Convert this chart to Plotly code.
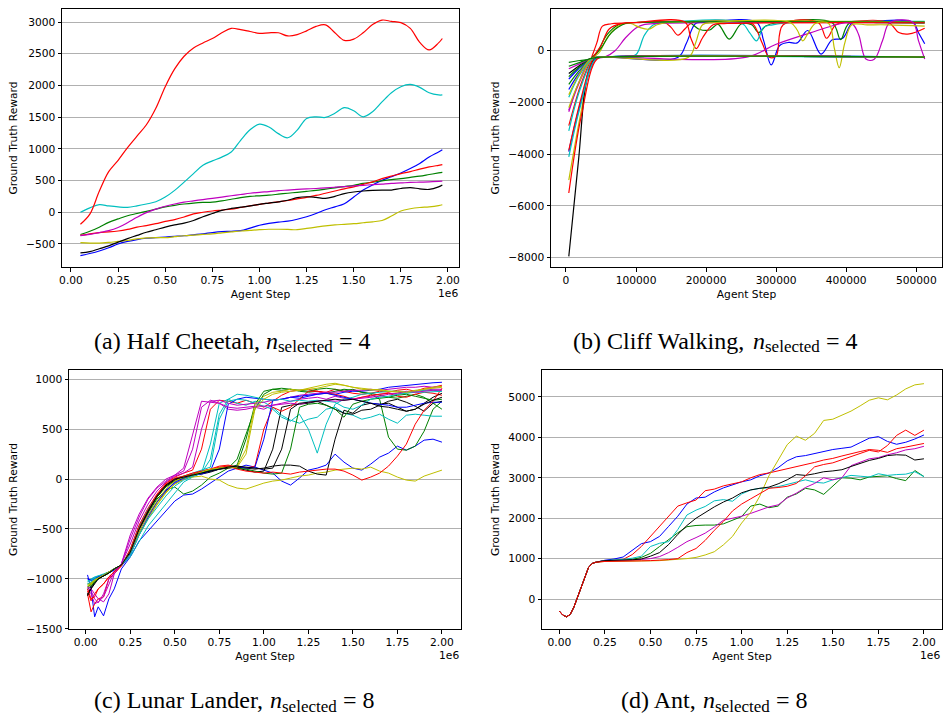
import plotly.graph_objects as go

FIG_W, FIG_H = 943, 715

LINE_COLORS = {
    "b": "#0000ff", "g": "#008000", "r": "#ff0000", "c": "#00bfbf",
    "m": "#bf00bf", "y": "#bfbf00", "k": "#000000",
}

# ---------------- (a) Half Cheetah (agent steps in millions) ----------------
cheetah_steps = [0.05, 0.10, 0.15, 0.20, 0.25, 0.30, 0.35, 0.40, 0.45, 0.50,
                 0.55, 0.60, 0.65, 0.70, 0.75, 0.80, 0.85, 0.90, 0.95, 1.00,
                 1.05, 1.10, 1.15, 1.20, 1.25, 1.30, 1.35, 1.40, 1.45, 1.50,
                 1.55, 1.60, 1.65, 1.70, 1.75, 1.80, 1.85, 1.90, 1.95, 1.97]
cheetah_blue = [-685, -650, -610, -560, -500, -460, -430, -410, -400, -390,
                -380, -370, -355, -340, -320, -305, -300, -290, -250, -205,
                -175, -155, -140, -110, -70, -20, 40, 85, 135, 240,
                350, 430, 505, 560, 620, 690, 770, 870, 950, 985]
cheetah_green = [-350, -300, -235, -160, -105, -55, -20, 15, 50, 85,
                 110, 130, 145, 155, 160, 180, 205, 230, 250, 260,
                 270, 285, 300, 315, 330, 345, 365, 385, 405, 425,
                 455, 475, 495, 515, 530, 550, 570, 595, 620, 630]
cheetah_red_low = [-365, -340, -320, -310, -295, -270, -235, -210, -180, -145,
                   -115, -75, -25, 0, 20, 35, 50, 75, 100, 125,
                   145, 165, 185, 210, 235, 265, 300, 335, 370, 400,
                   440, 480, 530, 570, 610, 640, 680, 715, 740, 750]
cheetah_cyan = [0, 70, 120, 100, 85, 78, 100, 130, 165, 240,
                345, 475, 610, 740, 810, 870, 950, 1135, 1300, 1390,
                1345, 1240, 1175, 1295, 1480, 1505, 1495, 1560, 1650, 1600,
                1505, 1585, 1740, 1885, 1980, 2015, 1970, 1885, 1850, 1850]
cheetah_magenta = [-368, -350, -320, -290, -240, -165, -80, -5, 50, 95,
                   130, 160, 180, 200, 220, 240, 260, 280, 300, 315,
                   325, 340, 350, 360, 368, 375, 385, 395, 405, 415,
                   425, 435, 445, 455, 462, 470, 475, 480, 488, 490]
cheetah_yellow = [-480, -485, -485, -475, -460, -445, -420, -405, -400, -400,
                  -385, -370, -360, -350, -340, -325, -310, -295, -285, -275,
                  -268, -268, -270, -275, -255, -235, -215, -200, -190, -180,
                  -165, -150, -130, -60, 20, 55, 75, 85, 105, 118]
cheetah_black = [-640, -620, -575, -530, -470, -415, -365, -315, -275, -235,
                 -200, -170, -130, -70, -20, 30, 60, 80, 100, 125,
                 145, 165, 190, 230, 245, 235, 220, 250, 295, 320,
                 335, 345, 350, 350, 375, 390, 370, 360, 400, 430]
cheetah_red_high = [-190, -30, 330, 640, 820, 1020, 1200, 1380, 1640, 1980,
                    2260, 2460, 2590, 2670, 2740, 2830, 2900, 2880, 2850, 2820,
                    2830, 2830, 2780, 2800, 2860, 2930, 2955, 2830, 2710, 2730,
                    2830, 2960, 3030, 3010, 2990, 2900, 2680, 2560, 2670, 2740]
cheetah_runs = [("b", cheetah_blue), ("g", cheetah_green), ("r", cheetah_red_low),
                ("c", cheetah_cyan), ("m", cheetah_magenta), ("y", cheetah_yellow),
                ("k", cheetah_black), ("r", cheetah_red_high)]

# ---------------- (b) Cliff Walking (agent steps in thousands) ----------------
cliff_runs = [
    ("b", [4, 18, 36, 45, 60, 160, 172, 185, 200, 272, 282, 293, 305, 318, 330, 345, 364, 380, 395, 408, 420, 495, 503, 512],
          [-1100, -700, -300, -250, -250, -250, 300, 1050, 1090, 1100, 400, -550, 200, 320, 300, 780, -130, 420, 480, 1060, 1090, 1100, 700, 270]),
    ("g", [4, 20, 36, 45, 58, 75, 90, 140, 175, 190, 205, 217, 233, 250, 265, 275, 285, 300, 380, 392, 404, 450, 512],
          [-450, -380, -300, -50, 600, 1000, 1080, 1110, 1100, 830, 800, 1020, 450, 1030, 1000, 700, 950, 1080, 1080, 430, 1050, 1080, 1060]),
    ("r", [4, 20, 36, 44, 52, 65, 100, 140, 150, 160, 170, 180, 260, 268, 280, 290, 300, 310, 360, 372, 385, 400, 460, 475, 490, 512],
          [-2900, -1400, -300, 300, 950, 1040, 1080, 1100, 900, 600, 850, 1080, 1100, 1000, 300, -250, -200, 1000, 1090, 480, 1000, 1100, 1100, 700, 650, 870]),
    ("c", [4, 20, 40, 55, 85, 100, 112, 125, 140, 250, 262, 272, 282, 295, 330, 512],
          [-3100, -1500, -320, -250, -250, -150, 600, 1000, 1080, 1080, 700, 380, 900, 1000, 1100, 1130]),
    ("m", [4, 18, 36, 55, 70, 85, 100, 110, 130, 512],
          [-2300, -1250, -300, -250, 0, 500, 880, 1000, 1050, 1080]),
    ("y", [4, 22, 38, 48, 60, 78, 92, 105, 118, 130, 145, 512],
          [-5000, -2300, -330, -50, 550, 1000, 1050, 900, 830, 1000, 1090, 1100]),
    ("k", [4, 18, 31, 42, 55, 512],
          [-7950, -4200, -900, -300, -250, -250]),
    ("b", [4, 20, 42, 55, 512],
          [-3900, -2100, -330, -250, -250]),
    ("g", [4, 18, 36, 50, 65, 85, 100, 512],
          [-1300, -800, -300, 100, 700, 1050, 1090, 1100]),
    ("r", [4, 20, 38, 50, 62, 80, 100, 170, 178, 186, 195, 210, 230, 512],
          [-3850, -2000, -320, 200, 850, 1050, 1090, 1100, 500, 80, 500, 1000, 1050, 1080]),
    ("c", [4, 20, 42, 55, 512],
          [-4100, -2200, -330, -250, -250]),
    ("m", [4, 18, 38, 55, 258, 300, 350, 400, 410, 418, 428, 440, 452, 462, 495, 503, 512],
          [-2360, -1300, -300, -250, -250, 250, 700, 1080, 1000, 600, -320, -330, 400, 1080, 1100, 400, -320]),
    ("y", [4, 18, 38, 55, 175, 185, 195, 210, 320, 330, 338, 346, 356, 375, 383, 390, 398, 408, 430, 460, 512],
          [-2200, -1250, -300, -250, -250, 300, 1000, 1080, 1090, 800, 380, 700, 1050, 1050, 100, -660, 300, 1000, 1000, 1000, 950]),
    ("k", [4, 18, 36, 50, 512], [-880, -600, -300, -250, -250]),
    ("b", [4, 18, 36, 50, 512], [-1500, -900, -310, -250, -250]),
    ("g", [4, 18, 36, 50, 512], [-1000, -650, -300, -250, -250]),
    ("r", [4, 22, 44, 60, 512], [-5500, -2500, -330, -250, -250]),
    ("c", [4, 18, 38, 55, 512], [-1800, -1000, -300, -250, -250]),
    ("m", [4, 20, 36, 50, 512], [-700, -500, -300, -250, -250]),
    ("y", [4, 18, 36, 50, 512], [-1700, -950, -300, -250, -250]),
    ("g", [4, 20, 36, 50, 512], [-600, -450, -300, -250, -250]),
]

# ---------------- (c) Lunar Lander (agent steps in millions) ----------------
lander_steps = [0.01, 0.03, 0.05, 0.07, 0.10, 0.13, 0.16, 0.20,
                0.25, 0.30, 0.35, 0.40, 0.45, 0.50, 0.55, 0.60, 0.65, 0.70,
                0.75, 0.80, 0.85, 0.90, 0.95, 1.00, 1.05, 1.10, 1.15, 1.20,
                1.25, 1.30, 1.35, 1.40, 1.45, 1.50, 1.55, 1.60, 1.65, 1.70,
                1.75, 1.80, 1.85, 1.90, 1.95, 2.00]
lander_runs = [
    ("b", [-960, -1100, -1380, -1280, -1370, -1200, -1100, -900,
           -780, -620, -520, -420, -320, -220, -160, -150, -100, -40,
           20, 80, 110, 140, 120, 90, 60, -20, -60, 10,
           90, 110, 140, 250, 170, 110, 90, 150, 220, 260,
           330, 290, 330, 390, 400, 370]),
    ("g", [-1050, -1040, -1010, -990, -960, -930, -900, -860,
           -740, -520, -340, -200, -110, -80, -150, -120, -60, 20,
           60, 110, 200, 450, 700, 850, 900, 890, 900, 880,
           870, 880, 860, 880, 900, 890, 870, 850, 800, 420,
           300, 290, 330, 480, 700, 780]),
    ("r", [-1150, -1330, -1250, -1200, -1180, -1000, -950, -870,
           -700, -460, -290, -150, -40, 20, 60, 90, 300, 700,
           790, 780, 760, 790, 760, 720, 780, 840, 880, 890,
           900, 880, 870, 900, 880, 860, 850, 860, 880, 870,
           890, 900, 880, 910, 920, 940]),
    ("c", [-1020, -1000, -980, -970, -960, -940, -910, -870,
           -780, -620, -470, -360, -250, -130, -30, 20, 60, 350,
           760, 800, 760, 740, 780, 770, 720, 640, 590, 560,
           600, 620, 700, 720, 660, 640, 600, 620, 650, 600,
           560, 640, 650, 640, 630, 630]),
    ("m", [-1100, -1150, -1250, -1230, -1180, -1050, -930, -850,
           -600, -380, -200, -90, -20, 40, 80, 300, 720, 790,
           760, 700, 690, 700, 720, 700, 740, 760, 780, 800,
           810, 820, 800, 830, 810, 800, 820, 830, 850, 860,
           850, 870, 880, 890, 900, 900]),
    ("y", [-1080, -1060, -1030, -1000, -960, -930, -900, -860,
           -740, -540, -390, -250, -130, -50, 0, 20, 30, 0,
           -10, -60, -90, -100, -70, -40, -20, -10, 10, 30,
           40, 60, 70, 90, 100, 110, 100, 120, 80, 60,
           20, -10, -20, 30, 60, 90]),
    ("k", [-1160, -1080, -1030, -1000, -970, -940, -900, -860,
           -740, -500, -320, -170, -60, 0, 20, 40, 50, 70,
           100, 130, 110, 90, 70, 80, 300, 720, 740, 750,
           760, 780, 740, 700, 660, 650, 690, 700, 740, 780,
           800, 770, 730, 680, 760, 780]),
    ("b", [-1000, -1020, -1000, -980, -960, -940, -910, -870,
           -760, -560, -380, -230, -110, -40, 0, 30, 60, 80,
           300, 750, 800, 820, 810, 800, 790, 800, 820, 810,
           830, 850, 860, 850, 870, 880, 880, 890, 900, 920,
           930, 940, 950, 960, 965, 970]),
    ("g", [-1080, -1050, -1020, -990, -970, -940, -900, -860,
           -730, -490, -310, -180, -70, -10, 10, 40, 70, 90,
           110, 120, 140, 400, 750, 880, 900, 910, 900, 890,
           880, 900, 910, 900, 880, 900, 870, 860, 840, 820,
           810, 830, 850, 820, 760, 700]),
    ("r", [-1120, -1220, -1150, -1100, -1050, -980, -930, -870,
           -710, -470, -300, -160, -50, 10, 30, 50, 80, 100,
           130, 140, 120, 110, 130, 500, 720, 680, 720, 800,
           880, 880, 860, 850, 830, 800, 820, 840, 850, 860,
           830, 820, 850, 870, 860, 840]),
    ("c", [-1050, -1030, -1000, -980, -960, -930, -900, -860,
           -720, -480, -300, -170, -60, 0, 30, 60, 90, 120,
           600, 780, 800, 790, 760, 730, 700, 620, 580, 650,
           500, 260, 550, 750, 800, 820, 850, 860, 870, 880,
           880, 870, 880, 890, 890, 880]),
    ("m", [-1090, -1120, -1200, -1240, -1150, -1000, -920, -850,
           -650, -420, -250, -120, -30, 30, 60, 120, 500, 780,
           790, 760, 740, 750, 760, 770, 790, 800, 820, 840,
           850, 860, 870, 870, 880, 890, 890, 900, 890, 900,
           910, 920, 920, 930, 920, 930]),
    ("y", [-1060, -1040, -1010, -990, -960, -930, -900, -860,
           -750, -560, -400, -260, -140, -50, 0, 30, 60, 80,
           100, 110, 130, 300, 750, 830, 870, 880, 900, 890,
           910, 930, 950, 960, 940, 920, 900, 890, 900, 880,
           870, 860, 880, 900, 920, 930]),
    ("k", [-1150, -1090, -1040, -1000, -970, -940, -900, -860,
           -740, -510, -330, -180, -70, -10, 20, 40, 60, 80,
           100, 110, 120, 110, 100, 110, 130, 140, 140, 130,
           80, 50, 40, 400, 690, 660, 740, 760, 750, 760,
           720, 680, 700, 760, 820, 860]),
    ("b", [-1000, -1010, -990, -980, -960, -930, -900, -860,
           -740, -520, -360, -230, -120, -30, 10, 40, 50, 80,
           100, 120, 130, 110, 120, 400, 790, 800, 820, 830,
           840, 850, 860, 840, 820, 800, 780, 760, 750, 740,
           720, 720, 740, 760, 770, 770]),
    ("g", [-1100, -1070, -1030, -1000, -970, -940, -900, -860,
           -730, -500, -320, -180, -80, -20, 20, 40, 70, 90,
           110, 120, 110, 100, 80, 60, 50, 60, 300, 720,
           750, 760, 740, 700, 620, 750, 780, 800, 810, 820,
           840, 850, 830, 810, 790, 800]),
    ("r", [-1100, -1200, -1180, -1100, -1050, -980, -930, -870,
           -720, -490, -310, -170, -60, 0, 30, 60, 80, 100,
           120, 130, 100, 80, 70, 60, 70, 60, 50, 70,
           80, 90, 100, 100, 80, 40, -10, 20, 60, 130,
           230, 350, 550, 690, 780, 910]),
    ("c", [-1030, -1010, -990, -970, -950, -930, -900, -860,
           -760, -560, -400, -280, -170, -70, -10, 30, 60, 200,
           650, 800, 850, 840, 820, 800, 790, 800, 780, 790,
           780, 790, 780, 770, 720, 700, 740, 800, 820, 830,
           850, 860, 870, 870, 875, 880]),
    ("m", [-1080, -1100, -1150, -1200, -1230, -1150, -950, -850,
           -560, -350, -190, -80, 0, 40, 110, 450, 780, 770,
           760, 720, 710, 720, 730, 730, 740, 750, 760, 750,
           770, 780, 790, 780, 790, 800, 810, 820, 830, 850,
           860, 880, 870, 880, 890, 890]),
    ("y", [-1070, -1050, -1020, -990, -960, -930, -900, -860,
           -730, -520, -360, -220, -100, -20, 20, 40, 70, 100,
           110, 120, 120, 250, 700, 800, 850, 870, 880, 890,
           900, 910, 930, 950, 940, 920, 910, 900, 890, 880,
           880, 870, 890, 900, 910, 920]),
    ("k", [-1170, -1100, -1050, -1000, -970, -940, -900, -860,
           -730, -500, -320, -170, -60, 0, 20, 40, 60, 80,
           100, 120, 130, 120, 110, 100, 110, 300, 700, 760,
           770, 780, 790, 800, 790, 800, 780, 760, 730, 720,
           700, 680, 700, 750, 790, 820]),
]

# ---------------- (d) Ant (agent steps in millions) ----------------
ant_warmup_steps = [0.00, 0.02, 0.04, 0.06, 0.08, 0.10, 0.12, 0.14, 0.16, 0.18, 0.20]
ant_warmup = [-300, -400, -440, -380, -200, 50, 300, 560, 780, 880, 910]
ant_steps = [0.25, 0.30, 0.35, 0.40, 0.45, 0.50, 0.55, 0.60, 0.65, 0.70,
             0.75, 0.80, 0.85, 0.90, 0.95, 1.00, 1.05, 1.10, 1.15, 1.20,
             1.25, 1.30, 1.35, 1.40, 1.45, 1.50, 1.55, 1.60, 1.65, 1.70,
             1.75, 1.80, 1.85, 1.90, 1.95, 2.00]
ant_blue = [960, 990, 1040, 1200, 1370, 1420, 1550, 1800, 2050, 2350,
            2500, 2520, 2650, 2750, 2830, 2900, 2950, 3050, 3120, 3250,
            3420, 3520, 3550, 3600, 3650, 3700, 3730, 3760, 3870, 3980,
            4020, 3900, 3830, 3880, 3960, 4060]
ant_green = [950, 955, 960, 980, 1030, 1130, 1300, 1480, 1640, 1790,
             1820, 1830, 1830, 1860, 1950, 2040, 2300, 2350, 2260, 2300,
             2520, 2600, 2740, 2700, 2590, 2800, 3000, 2990, 2950, 3020,
             3040, 3050, 2980, 2930, 3180, 3030]
ant_red_early = [950, 955, 980, 1100, 1300, 1550, 1780, 2050, 2300, 2380,
                 2450, 2680, 2720, 2800, 2850, 2900, 3000, 3080, 3120, 3170,
                 3230, 3280, 3320, 3380, 3440, 3480, 3540, 3600, 3650, 3700,
                 3680, 3630, 3720, 3760, 3810, 3850]
ant_cyan = [950, 960, 980, 1010, 1060, 1300, 1380, 1420, 1720, 2080,
            2200, 2290, 2430, 2460, 2420, 2600, 2700, 2740, 2750, 2780,
            2840, 2900, 2950, 2890, 2870, 2950, 3010, 3060, 3040, 3020,
            3100, 3060, 3080, 3090, 3150, 3030]
ant_magenta = [940, 945, 950, 960, 980, 1000, 1050, 1150, 1280, 1420,
               1520, 1630, 1780, 1950, 2000, 2050, 2120, 2200, 2280, 2330,
               2500, 2620, 2760, 2860, 3000, 2950, 3000, 3300, 3380, 3470,
               3500, 3570, 3620, 3690, 3720, 3780]
ant_yellow = [930, 930, 935, 940, 940, 945, 950, 965, 985, 1000,
              1030, 1090, 1170, 1340, 1550, 1880, 2150, 2550, 3050, 3450,
              3820, 4030, 3930, 4100, 4420, 4450, 4550, 4650, 4780, 4920,
              4980, 4930, 5050, 5200, 5300, 5330]
ant_black = [950, 955, 960, 970, 990, 1060, 1150, 1350, 1600, 1820,
             2000, 2150, 2280, 2400, 2500, 2630, 2700, 2740, 2770, 2850,
             2950, 3080, 3060, 3100, 3150, 3170, 3200, 3280, 3350, 3430,
             3480, 3550, 3570, 3560, 3440, 3470]
ant_red_late = [930, 930, 935, 940, 945, 950, 960, 975, 1000, 1150,
                1250, 1450, 1700, 1920, 2180, 2350, 2480, 2600, 2740, 2760,
                2790, 2860, 3050, 3270, 3330, 3370, 3450, 3520, 3600, 3680,
                3640, 3800, 4050, 4180, 4050, 4180]
ant_runs = [("b", ant_blue), ("g", ant_green), ("r", ant_red_early), ("c", ant_cyan),
            ("m", ant_magenta), ("y", ant_yellow), ("k", ant_black), ("r", ant_red_late)]

for _, ys in cheetah_runs:
    assert len(ys) == len(cheetah_steps)
for _, xs, ys in cliff_runs:
    assert len(xs) == len(ys)
for _, ys in lander_runs:
    assert len(ys) == len(lander_steps)
for _, ys in ant_runs:
    assert len(ys) == len(ant_steps)

# ---------------- figure ----------------
fig = go.Figure()


def add_line(xs, ys, color, axis_id, width, shape="linear"):
    fig.add_trace(go.Scatter(
        x=xs, y=ys, mode="lines",
        line=dict(color=LINE_COLORS[color], width=width, shape=shape),
        xaxis="x" + axis_id, yaxis="y" + axis_id,
        showlegend=False, hoverinfo="skip",
    ))


for c, ys in cheetah_runs:
    add_line(cheetah_steps, ys, c, "", 1.2, "spline")
for c, xs, ys in cliff_runs:
    add_line([v * 1000 for v in xs], ys, c, "2", 1.2, "spline")
for c, ys in lander_runs:
    add_line(lander_steps, ys, c, "3", 1.0)
for c, ys in ant_runs:
    add_line(ant_warmup_steps + ant_steps, ant_warmup + ys, c, "4", 1.0)


def px_x(v):
    return v / FIG_W


def px_y(v):
    return 1 - v / FIG_H


TEXT_FONT = dict(family="DejaVu Sans", size=10.7, color="black")
million_ticks = [0.0, 0.25, 0.5, 0.75, 1.0, 1.25, 1.5, 1.75, 2.0]
million_text = ["0.00", "0.25", "0.50", "0.75", "1.00", "1.25", "1.50", "1.75", "2.00"]


def minus(v):
    return str(v).replace("-", "\u2212")


def make_axes(suffix, box_x, box_y, xrange, yrange, xticks, xtext, yticks):
    common = dict(showline=True, mirror=True, linecolor="black", linewidth=1,
                  ticks="outside", ticklen=3.5, tickwidth=1, tickcolor="black",
                  zeroline=False, tickfont=TEXT_FONT, fixedrange=True, automargin=False)
    xa = dict(common, domain=[px_x(box_x[0]), px_x(box_x[1])], range=xrange,
              anchor="y" + suffix, tickvals=xticks, ticktext=xtext, showgrid=False,
              title=dict(text="Agent Step", font=TEXT_FONT, standoff=4))
    ya = dict(common, domain=[px_y(box_y[1]), px_y(box_y[0])], range=yrange,
              anchor="x" + suffix, tickvals=yticks, ticktext=[minus(v) for v in yticks],
              showgrid=True, gridcolor="#b0b0b0", gridwidth=1,
              title=dict(text="Ground Truth Reward", font=TEXT_FONT, standoff=6))
    return xa, ya


xa1, ya1 = make_axes("", (62, 459), (9, 267), [-0.0477, 2.0584], [-863, 3205],
                     million_ticks, million_text, [-500, 0, 500, 1000, 1500, 2000, 2500, 3000])
xa2, ya2 = make_axes("2", (551, 942), (9, 267), [-21400, 536700], [-8360, 1611],
                     [0, 100000, 200000, 300000, 400000, 500000],
                     ["0", "100000", "200000", "300000", "400000", "500000"],
                     [-8000, -6000, -4000, -2000, 0])
xa3, ya3 = make_axes("3", (69, 461), (370, 629), [-0.094, 2.107], [-1502, 1093],
                     million_ticks, million_text, [-1500, -1000, -500, 0, 500, 1000])
xa4, ya4 = make_axes("4", (542, 942), (370, 629), [-0.095, 2.099], [-742, 5668],
                     million_ticks, million_text, [0, 1000, 2000, 3000, 4000, 5000])

annotations = []


def label(text, x, y, size=10.7, xanchor="center", family="DejaVu Sans", style="normal"):
    annotations.append(dict(
        text=text, x=px_x(x), y=px_y(y), xref="paper", yref="paper",
        xanchor=xanchor, yanchor="middle", showarrow=False,
        font=dict(family=family, size=size, color="black", style=style),
    ))


# scale offset text under the million-step axes
label("1e6", 459.5, 294, xanchor="right")
label("1e6", 460.5, 655, xanchor="right")
label("1e6", 942, 655, xanchor="right")

# sub-figure captions: roman head, italic n, subscript "selected", then "= k"
CAP = "Liberation Serif"
CAP_SIZE = 24
SUB_SIZE = 17
SERIF_EM = {"(": .333, ")": .333, " ": .25, ",": .25, "=": .564, "4": .5, "8": .5,
            "a": .444, "b": .5, "c": .444, "d": .5, "e": .444, "f": .333, "g": .5,
            "h": .5, "i": .278, "k": .5, "l": .278, "n": .5, "r": .333, "s": .389,
            "t": .278, "u": .5, "A": .722, "C": .667, "H": .722, "L": .611, "W": .944}


def serif_width(text, size):
    return sum(SERIF_EM[ch] for ch in text) * size


def caption(left, y, head, count):
    x = left
    label(head, x, y, size=CAP_SIZE, xanchor="left", family=CAP)
    x += serif_width(head + " ", CAP_SIZE)
    label("n", x, y, size=CAP_SIZE, xanchor="left", family=CAP, style="italic")
    x += 0.5 * CAP_SIZE
    label("selected", x, y + 6, size=SUB_SIZE, xanchor="left", family=CAP)
    x += serif_width("selected", SUB_SIZE) + 0.28 * CAP_SIZE
    label("= " + count, x, y, size=CAP_SIZE, xanchor="left", family=CAP)


caption(92, 341, "(a) Half Cheetah,", "4")
caption(571, 341, "(b) Cliff Walking,", "4")
caption(92, 700, "(c) Lunar Lander,", "8")
caption(619, 700, "(d) Ant,", "8")

fig.update_layout(
    width=FIG_W, height=FIG_H,
    margin=dict(l=0, r=0, t=0, b=0),
    paper_bgcolor="white", plot_bgcolor="white",
    showlegend=False,
    xaxis=xa1, yaxis=ya1, xaxis2=xa2, yaxis2=ya2,
    xaxis3=xa3, yaxis3=ya3, xaxis4=xa4, yaxis4=ya4,
    annotations=annotations,
)

fig.write_html("out.html")
